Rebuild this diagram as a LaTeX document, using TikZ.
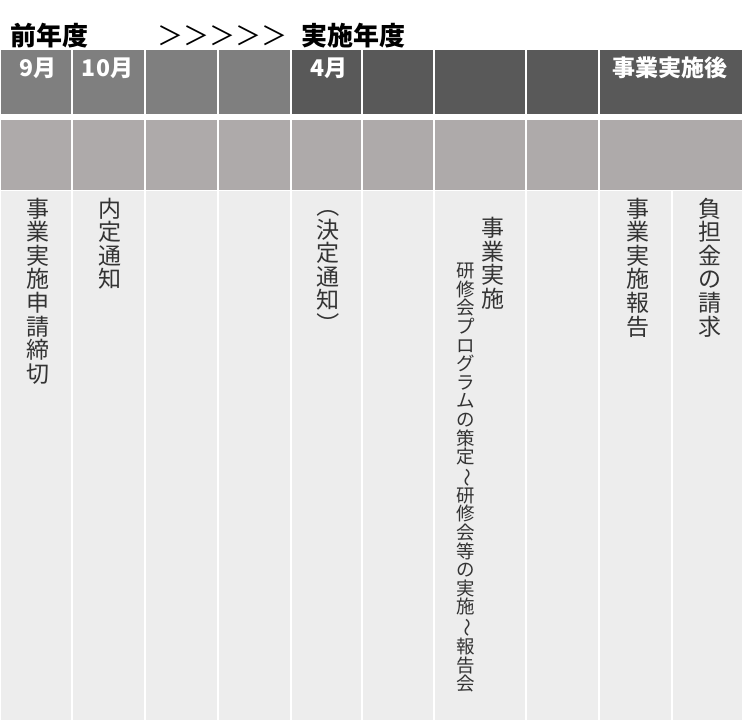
\documentclass[tikz,border=0pt]{standalone}
\usepackage{fontspec}
\usepackage{graphicx}
\setmainfont{Noto Sans CJK JP}

\definecolor{hdlight}{HTML}{7F7F7F}
\definecolor{hddark}{HTML}{595959}
\definecolor{band}{HTML}{AEAAAA}
\definecolor{bodygray}{HTML}{EDEDED}

\newcommand\vrot[1]{\rotatebox[origin=c]{-90}{#1}}

\tikzset{
  cell/.style={draw=white,line width=1.5pt},
  ttl/.style={anchor=base west,inner sep=0pt,font=\fontsize{26}{26}\selectfont},
  hdtext/.style={inner sep=0pt,text=white,font=\fontsize{23}{23}\selectfont\bfseries},
  tate/.style={anchor=north,align=center,inner sep=0pt,text=black!80,font=\fontsize{23}{23.6}\selectfont},
  tatesmall/.style={tate,font=\fontsize{18.5}{18.6}\selectfont}
}

\begin{document}
\begin{tikzpicture}[x=1pt,y=-1pt]
\useasboundingbox (0,0) rectangle (743,720);

\node[ttl,font=\fontsize{26}{26}\selectfont\bfseries] (ttl_prev) at (10.5,45) {前年度};
\node[ttl] (ttl_arrows) at (157,45) {＞＞＞＞＞};
\node[ttl,font=\fontsize{26}{26}\selectfont\bfseries] (ttl_cur) at (301.5,45) {実施年度};

\foreach \xa/\xb in {0/72,72/145,145/218,218/291}
  \draw[cell,fill=hdlight] (\xa,49) rectangle (\xb,115);
\foreach \xa/\xb in {291/362,362/434,434/526,526/599,599/743}
  \draw[cell,fill=hddark] (\xa,49) rectangle (\xb,115);

\foreach \xa/\xb in {0/72,72/145,145/218,218/291,291/362,362/434,434/526,526/599,599/743}
  \draw[cell,fill=band] (\xa,119) rectangle (\xb,190.5);

\foreach \xa/\xb in {0/72,72/145,145/218,218/291,291/362,362/434,434/526,526/599,599/672,672/743}
  \draw[cell,fill=bodygray] (\xa,190.5) rectangle (\xb,721);

\node[hdtext] (hd_sep) at (38,68) {9月};
\node[hdtext] (hd_oct) at (107.5,68) {10月};
\node[hdtext] (hd_apr) at (328.5,68) {4月};
\node[hdtext] (hd_after) at (669.5,68) {事業実施後};

\node[tate] (tx_deadline) at (37.5,197.5) {事\\業\\実\\施\\申\\請\\締\\切};
\node[tate] (tx_naitei) at (110,197.5) {内\\定\\通\\知};
\node[tate] (tx_kettei) at (328,194) {\vrot{（}\\決\\定\\通\\知\\\vrot{）}};
\node[tate] (tx_jisshi) at (493,217) {事\\業\\実\\施};
\node[tatesmall] (tx_program) at (465.5,263)
  {研\\修\\会\\プ\\ロ\\グ\\ラ\\ム\\の\\策\\定\\\vrot{～}\\研\\修\\会\\等\\の\\実\\施\\\vrot{～}\\報\\告\\会};
\node[tate] (tx_houkoku) at (637.5,197.5) {事\\業\\実\\施\\報\\告};
\node[tate] (tx_seikyu) at (709.5,197.5) {負\\担\\金\\の\\請\\求};

\end{tikzpicture}
\end{document}
